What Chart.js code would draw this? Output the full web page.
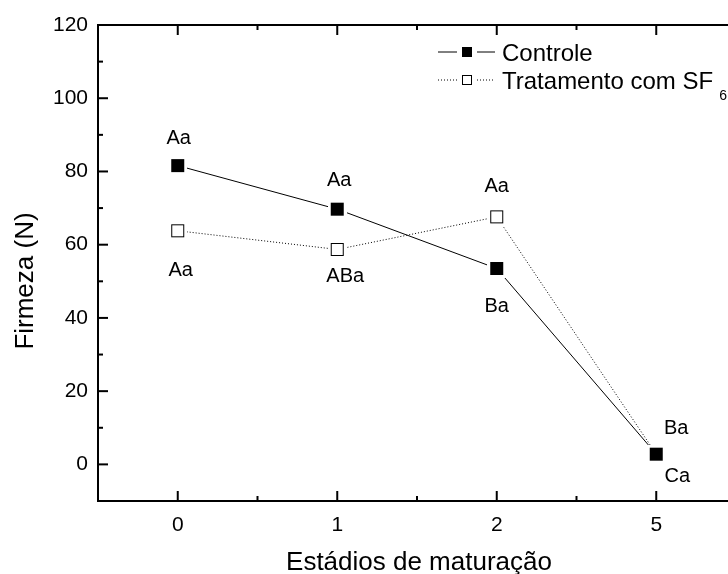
<!DOCTYPE html>
<html>
<head>
<meta charset="utf-8">
<script src="https://cdn.jsdelivr.net/npm/chart.js@4"></script>
<style>
  html, body { margin: 0; padding: 0; background: #fff; overflow: hidden; }
  #wrap { width: 728px; height: 574px; overflow: hidden; }
</style>
</head>
<body>
<div id="wrap"><canvas id="firmeza" width="760" height="574"></canvas></div>
<script>
const estadios = ['0', '1', '2', '5'];
const controle = [81.6, 69.7, 53.5, 2.8];
const tratamento = [63.8, 58.7, 67.6, 2.8];
const letrasControle = ['Aa', 'Aa', 'Ba', 'Ca'];
const letrasTratamento = ['Aa', 'ABa', 'Aa', 'Ba'];
const yTicks = [0, 20, 40, 60, 80, 100, 120];

const FONT = "'Liberation Sans', Arial, sans-serif";

// square marker with a white margin, so lines stop a little short of it
const squareMarker = (filled, size = 13, gap = 3) => {
  const c = document.createElement('canvas');
  const s = size + gap * 2;
  c.width = s; c.height = s;
  const g = c.getContext('2d');
  g.fillStyle = '#fff';
  g.fillRect(0, 0, s, s);
  if (filled) {
    g.fillStyle = '#000';
    g.fillRect(gap, gap, size, size);
  } else {
    g.strokeStyle = '#000';
    g.lineWidth = 1;
    g.strokeRect(gap + 0.5, gap + 0.5, size - 1, size - 1);
  }
  return c;
};

// letters of the mean comparison test, placed around each marker
const labelOffsets = {
  0: [[1, -27], [2, -29], [0, 38], [21, 22]],
  1: [[3, 40], [8, 27], [0, -30], [20, -26]]
};
const letras = { 0: letrasControle, 1: letrasTratamento };

const pointLetters = {
  id: 'pointLetters',
  afterDatasetsDraw(chart) {
    const { ctx } = chart;
    ctx.save();
    ctx.fillStyle = '#000';
    ctx.font = '20px ' + FONT;
    ctx.textAlign = 'center';
    ctx.textBaseline = 'middle';
    [0, 1].forEach(d => {
      chart.getDatasetMeta(d).data.forEach((pt, i) => {
        const [dx, dy] = labelOffsets[d][i];
        ctx.fillText(letras[d][i], pt.x + dx, pt.y + dy);
      });
    });
    ctx.restore();
  }
};

// frame with inward ticks, axis titles and legend
const frame = {
  id: 'frame',
  afterDraw(chart) {
    const { ctx, chartArea: a, scales: { x, y } } = chart;
    ctx.save();
    ctx.strokeStyle = '#000';
    ctx.lineWidth = 2;
    ctx.strokeRect(a.left, a.top, a.right - a.left, a.bottom - a.top);

    const line = (x1, y1, x2, y2) => {
      ctx.beginPath(); ctx.moveTo(x1, y1); ctx.lineTo(x2, y2); ctx.stroke();
    };
    const xMajor = estadios.map((_, i) => i);
    const xMinor = xMajor.slice(0, -1).map(v => v + 0.5);
    xMajor.forEach(v => {
      const px = x.getPixelForValue(v);
      line(px, a.bottom, px, a.bottom - 10);
      line(px, a.top, px, a.top + 10);
    });
    xMinor.forEach(v => {
      const px = x.getPixelForValue(v);
      line(px, a.bottom, px, a.bottom - 5);
      line(px, a.top, px, a.top + 5);
    });
    yTicks.forEach((v, i) => {
      const py = y.getPixelForValue(v);
      line(a.left, py, a.left + 10, py);
      if (i < yTicks.length - 1) {
        const pm = y.getPixelForValue((v + yTicks[i + 1]) / 2);
        line(a.left, pm, a.left + 5, pm);
      }
    });

    // axis titles
    ctx.fillStyle = '#000';
    ctx.font = '26px ' + FONT;
    ctx.textAlign = 'center';
    ctx.textBaseline = 'alphabetic';
    ctx.fillText('Estádios de maturação', (a.left + 736) / 2 + 2, 570);
    ctx.save();
    ctx.translate(33, 281);
    ctx.rotate(-Math.PI / 2);
    ctx.fillText('Firmeza (N)', 0, 0);
    ctx.restore();

    // legend
    const rows = [
      { ds: chart.data.datasets[0], y: 52, text: 'Controle', sub: '' },
      { ds: chart.data.datasets[1], y: 80, text: 'Tratamento com SF', sub: '6' }
    ];
    rows.forEach(r => {
      ctx.save();
      ctx.lineWidth = 1;
      ctx.strokeStyle = r.ds.borderColor;
      ctx.setLineDash(r.ds.borderDash || []);
      line(438, r.y, 457, r.y);
      line(477, r.y, 495, r.y);
      ctx.restore();
      ctx.lineWidth = 1;
      if (r.ds.label === 'Controle') {
        ctx.fillStyle = '#000';
        ctx.fillRect(462, r.y - 5, 10, 10);
      } else {
        ctx.fillStyle = '#fff';
        ctx.fillRect(462, r.y - 5, 10, 10);
        ctx.strokeRect(462.5, r.y - 4.5, 9, 9);
      }
      ctx.fillStyle = '#000';
      ctx.font = '24px ' + FONT;
      ctx.textAlign = 'left';
      ctx.fillText(r.text, 502, r.y + 8.6);
      if (r.sub) {
        const w = ctx.measureText(r.text).width;
        ctx.font = '14px ' + FONT;
        ctx.fillText(r.sub, 502 + w + 6, r.y + 20);
      }
    });
    ctx.restore();
  }
};

new Chart(document.getElementById('firmeza'), {
  type: 'line',
  data: {
    datasets: [
      {
        label: 'Controle',
        data: controle.map((v, i) => ({ x: i, y: v })),
        borderColor: '#000',
        borderWidth: 1,
        pointStyle: squareMarker(true),
        pointRadius: 8,
        tension: 0,
        fill: false
      },
      {
        label: 'Tratamento com SF6',
        data: tratamento.map((v, i) => ({ x: i, y: v })),
        borderColor: '#000',
        borderWidth: 1,
        borderDash: [1, 2],
        pointStyle: squareMarker(false),
        pointRadius: 8,
        tension: 0,
        fill: false
      }
    ]
  },
  options: {
    responsive: false,
    animation: false,
    events: [],
    layout: { padding: { top: 25, right: 24, left: 0, bottom: 0 } },
    plugins: {
      legend: { display: false },
      tooltip: { enabled: false }
    },
    scales: {
      x: {
        type: 'linear',
        min: -0.5,
        max: 3.5,
        grid: { display: false, drawTicks: false },
        border: { display: false },
        afterBuildTicks: s => { s.ticks = estadios.map((_, i) => ({ value: i })); },
        afterFit: s => { s.height = 73; },
        ticks: {
          color: '#000',
          padding: 12,
          font: { family: FONT, size: 21 },
          callback: v => estadios[v]
        }
      },
      y: {
        min: -10,
        max: 120,
        grid: { display: false, drawTicks: false },
        border: { display: false },
        afterBuildTicks: s => { s.ticks = yTicks.map(v => ({ value: v })); },
        afterFit: s => { s.width = 98; },
        ticks: {
          color: '#000',
          padding: 10,
          font: { family: FONT, size: 21 }
        }
      }
    }
  },
  plugins: [pointLetters, frame]
});
</script>
</body>
</html>
